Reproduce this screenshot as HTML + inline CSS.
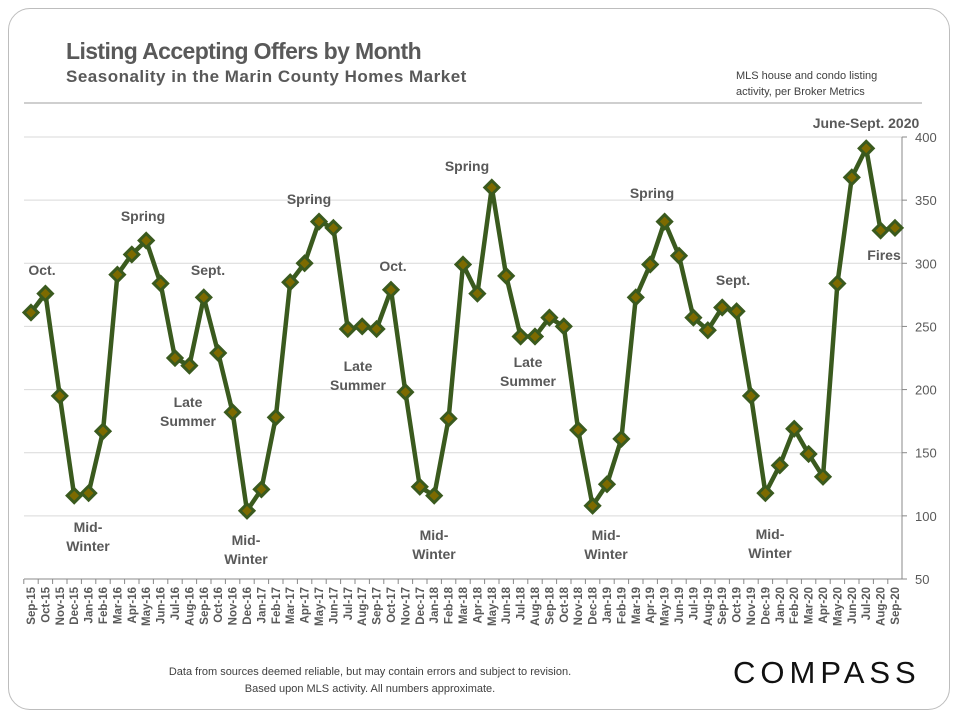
<!DOCTYPE html>
<html><head><meta charset="utf-8"><style>
body{margin:0;background:#fff;font-family:"Liberation Sans",sans-serif;}
#card{position:absolute;left:8px;top:8px;width:940px;height:700px;border:1px solid #bdbdbd;border-radius:22px;}
.t{position:absolute;color:#595959;font-family:"Liberation Sans",sans-serif;}
</style></head><body>
<div id="card"></div>
<div class="t" style="left:66px;top:38px;font-size:23px;font-weight:bold;letter-spacing:-0.6px">Listing Accepting Offers by Month</div>
<div class="t" style="left:66px;top:67px;font-size:17px;font-weight:bold;letter-spacing:0.5px">Seasonality in the Marin County Homes Market</div>
<div class="t" style="left:736px;top:68px;font-size:11px;line-height:16px;color:#404040">MLS house and condo listing<br>activity, per Broker Metrics</div>
<div class="t" style="left:130px;top:664px;width:480px;text-align:center;font-size:11px;line-height:17px;color:#404040">Data from sources deemed reliable, but may contain errors and subject to revision.<br>Based upon MLS activity.  All numbers approximate.</div>
<div class="t" style="left:733px;top:655px;font-size:31px;letter-spacing:5px;color:#111">COMPASS</div>
<svg id="ch" width="960" height="720" style="position:absolute;left:0;top:0"></svg>
<script>
const categories=["Sep-15","Oct-15","Nov-15","Dec-15","Jan-16","Feb-16","Mar-16","Apr-16","May-16","Jun-16","Jul-16","Aug-16","Sep-16","Oct-16","Nov-16","Dec-16","Jan-17","Feb-17","Mar-17","Apr-17","May-17","Jun-17","Jul-17","Aug-17","Sep-17","Oct-17","Nov-17","Dec-17","Jan-18","Feb-18","Mar-18","Apr-18","May-18","Jun-18","Jul-18","Aug-18","Sep-18","Oct-18","Nov-18","Dec-18","Jan-19","Feb-19","Mar-19","Apr-19","May-19","Jun-19","Jul-19","Aug-19","Sep-19","Oct-19","Nov-19","Dec-19","Jan-20","Feb-20","Mar-20","Apr-20","May-20","Jun-20","Jul-20","Aug-20","Sep-20"];
const values=[261,276,195,116,118,167,291,307,318,284,225,219,273,229,182,104,121,178,285,300,333,328,248,250,248,279,198,123,116,177,299,276,360,290,242,242,257,250,168,108,125,161,273,299,333,306,257,247,265,262,195,118,140,169,149,131,284,368,391,326,328];
const yTicks=[50,100,150,200,250,300,350,400];
const annotations=[["Oct.",42,275],["Mid-\nWinter",88,532],["Spring",143,221],["Late\nSummer",188,407],["Sept.",208,275],["Mid-\nWinter",246,545],["Spring",309,204],["Late\nSummer",358,371],["Oct.",393,271],["Mid-\nWinter",434,540],["Spring",467,171],["Late\nSummer",528,367],["Mid-\nWinter",606,540],["Spring",652,198],["Sept.",733,285],["Mid-\nWinter",770,539],["June-Sept. 2020",866,128],["Fires",884,260]];
const NS="http://www.w3.org/2000/svg",svg=document.getElementById('ch');
const x0=31,x1=895,yTop=137,yBot=579,axX=902;
const xs=i=>x0+i*(x1-x0)/(categories.length-1);
const ys=v=>yBot-(v-50)/350*(yBot-yTop);
function mk(t,a,p){const e=document.createElementNS(NS,t);for(const k in a)e.setAttribute(k,a[k]);(p||svg).appendChild(e);return e;}
yTicks.forEach(v=>{
 if(v>50){const g=mk('line',{x1:24,x2:axX,y1:ys(v),y2:ys(v),stroke:'#d9d9d9','stroke-width':1});
 
 }
 mk('line',{x1:axX,x2:axX+5,y1:ys(v),y2:ys(v),stroke:'#888'});
 const t=mk('text',{x:axX+13,y:ys(v)+5,'font-size':13,fill:'#595959'});
 t.textContent=v;
 
 
});
mk('line',{x1:24,x2:922,y1:103,y2:103,stroke:'#bfbfbf','stroke-width':1.5});
mk('line',{x1:axX,x2:axX,y1:yTop,y2:yBot,stroke:'#888'});
mk('line',{x1:24,x2:axX,y1:yBot,y2:yBot,stroke:'#888'});
const step=(x1-x0)/(categories.length-1);
categories.forEach((c,i)=>{
 mk('line',{x1:xs(i)-step/2,x2:xs(i)-step/2,y1:yBot,y2:yBot+5,stroke:'#888'});
 const t=mk('text',{transform:`translate(${xs(i)+4},${yBot+8}) rotate(-90)`,'text-anchor':'end','font-size':11.5,'font-weight':'bold',fill:'#595959'});
 t.textContent=c;
 
 
});
const line=mk('polyline',{points:values.map((v,i)=>xs(i)+','+ys(v)).join(' '),fill:'none',stroke:'#3a5a1e','stroke-width':4.5,'stroke-linejoin':'round'});


values.forEach((v,i)=>{
 const x=xs(i),y=ys(v),r=7;
 const d=mk('polygon',{points:`${x},${y-r} ${x+r},${y} ${x},${y+r} ${x-r},${y}`,fill:'#7d6a00',stroke:'#3a5a1e','stroke-width':3});
 
 
});
annotations.forEach(([txt,x,y])=>{
 const lines=txt.split("\n");
 const t=mk('text',{x:x,y:y,'text-anchor':'middle','font-size':14,'font-weight':'bold',fill:'#595959'});
 lines.forEach((l,k)=>{const s=mk('tspan',{x:x,dy:k?19:0},t);s.textContent=l;});
 
 
});
</script>
</body></html>
